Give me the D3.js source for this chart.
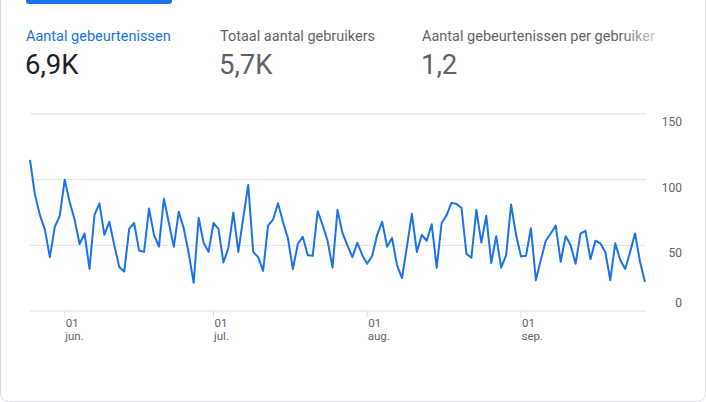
<!DOCTYPE html>
<html><head><meta charset="utf-8">
<script src="https://cdn.jsdelivr.net/npm/d3@7"></script>
<style>body{margin:0;background:#fff;font-family:Roboto,sans-serif}</style>
</head><body><svg id="c" width="706" height="402"></svg>
<script>
const startDate = "2023-05-25";
const values = [115,88.5,73,62,41,64,72.5,100,83,69.5,51,59,32,73,82,58,68,50,33.5,30,62.5,67,46,45,78,58,49,85.5,67,49,75.5,63,44,21.5,71,52,45,67,62.5,37,48,75,45,
71,96,45,41,30.5,65,69.5,82,68,55.5,32,51,56.5,42.5,42,76,65.5,53.5,33,77,59.5,50,41,52,42.5,36,42,58,68,49,55.5,35,25,49,74,45,58,53.5,66,33,67,
73,82.5,81.5,78.5,43.5,40.5,77,52,72.5,36.5,57,33,42.5,81,58,41.5,42,63,23.5,39,53.5,59,65,37.5,57,50,36,59,61,39.5,53.5,51.5,45,23.5,51.5,39,32,45,59,37.5,22];
const yTicks = [0,50,100,150];
const xTickDates = ["2023-06-01","2023-07-01","2023-08-01","2023-09-01"];
const xTickMonths = ["jun.","jul.","aug.","sep."];
const metricLabels = ["Aantal gebeurtenissen","Totaal aantal gebruikers","Aantal gebeurtenissen per gebruiker"];
const metricValues = ["6,9K","5,7K","1,2"];

const svg = d3.select("#c");
const parse = d3.utcParse("%Y-%m-%d");
const t0 = parse(startDate);
const data = values.map((v,i)=>({d:d3.utcDay.offset(t0,i),v}));

const defs = svg.append("defs");
const g1 = defs.append("linearGradient").attr("id","fade");
g1.append("stop").attr("offset","0.85").attr("stop-color","#5f6368");
g1.append("stop").attr("offset","1").attr("stop-color","#5f6368").attr("stop-opacity",0.3);

svg.append("rect").attr("x",0.5).attr("y",-8).attr("width",705).attr("height",409.5)
  .attr("rx",8).attr("fill","#fff").attr("stroke","#dadce0");
svg.append("rect").attr("x",26).attr("y",-4).attr("width",146).attr("height",8).attr("rx",3).attr("fill","#1a73e8");

const mx = [26,220,422];
metricLabels.forEach((l,i)=>{
  svg.append("text").attr("x",mx[i]).attr("y",41).attr("font-size",14.5)
    .attr("fill", i==0?"#1a73e8":(i==2?"url(#fade)":"#5f6368")).text(l);
  svg.append("text").attr("x",mx[i]-1).attr("y",74).attr("font-size",27.5)
    .attr("fill", i==0?"#202124":"#5f6368").text(metricValues[i]);
});

const x = d3.scaleUtc().domain([t0, d3.utcDay.offset(t0, values.length-1)]).range([30,645]);
const y = d3.scaleLinear().domain([0,150]).range([311,114]);

svg.append("g").selectAll("line").data(yTicks).join("line")
  .attr("x1",30).attr("x2",646).attr("y1",d=>y(d)).attr("y2",d=>y(d))
  .attr("stroke", "#e0e0e0");
svg.append("g").selectAll("text").data(yTicks).join("text")
  .attr("x",682).attr("text-anchor","end").attr("font-size",12).attr("fill","#5f6368")
  .attr("y",d=> d==0 ? y(d)-4 : y(d)+12).text(d=>d);

const xd = xTickDates.map(parse);
const xg = svg.append("g");
xg.selectAll("line").data(xd).join("line").attr("x1",d=>x(d)).attr("x2",d=>x(d))
  .attr("y1",311).attr("y2",317).attr("stroke","#dadce0");
xg.selectAll("text.d").data(xd).join("text").attr("class","d").attr("x",d=>x(d)+1).attr("y",327)
  .attr("font-size",11.5).attr("fill","#5f6368").text("01");
xg.selectAll("text.m").data(xd).join("text").attr("class","m").attr("x",d=>x(d)+0.5).attr("y",340)
  .attr("font-size",11.5).attr("fill","#5f6368").text((d,i)=>xTickMonths[i]);

svg.append("path").datum(data).attr("fill","none").attr("stroke","#1a73e8").attr("stroke-width",2)
  .attr("stroke-linejoin","round")
  .attr("d", d3.line().x(d=>x(d.d)).y(d=>y(d.v)));
</script></body></html>
